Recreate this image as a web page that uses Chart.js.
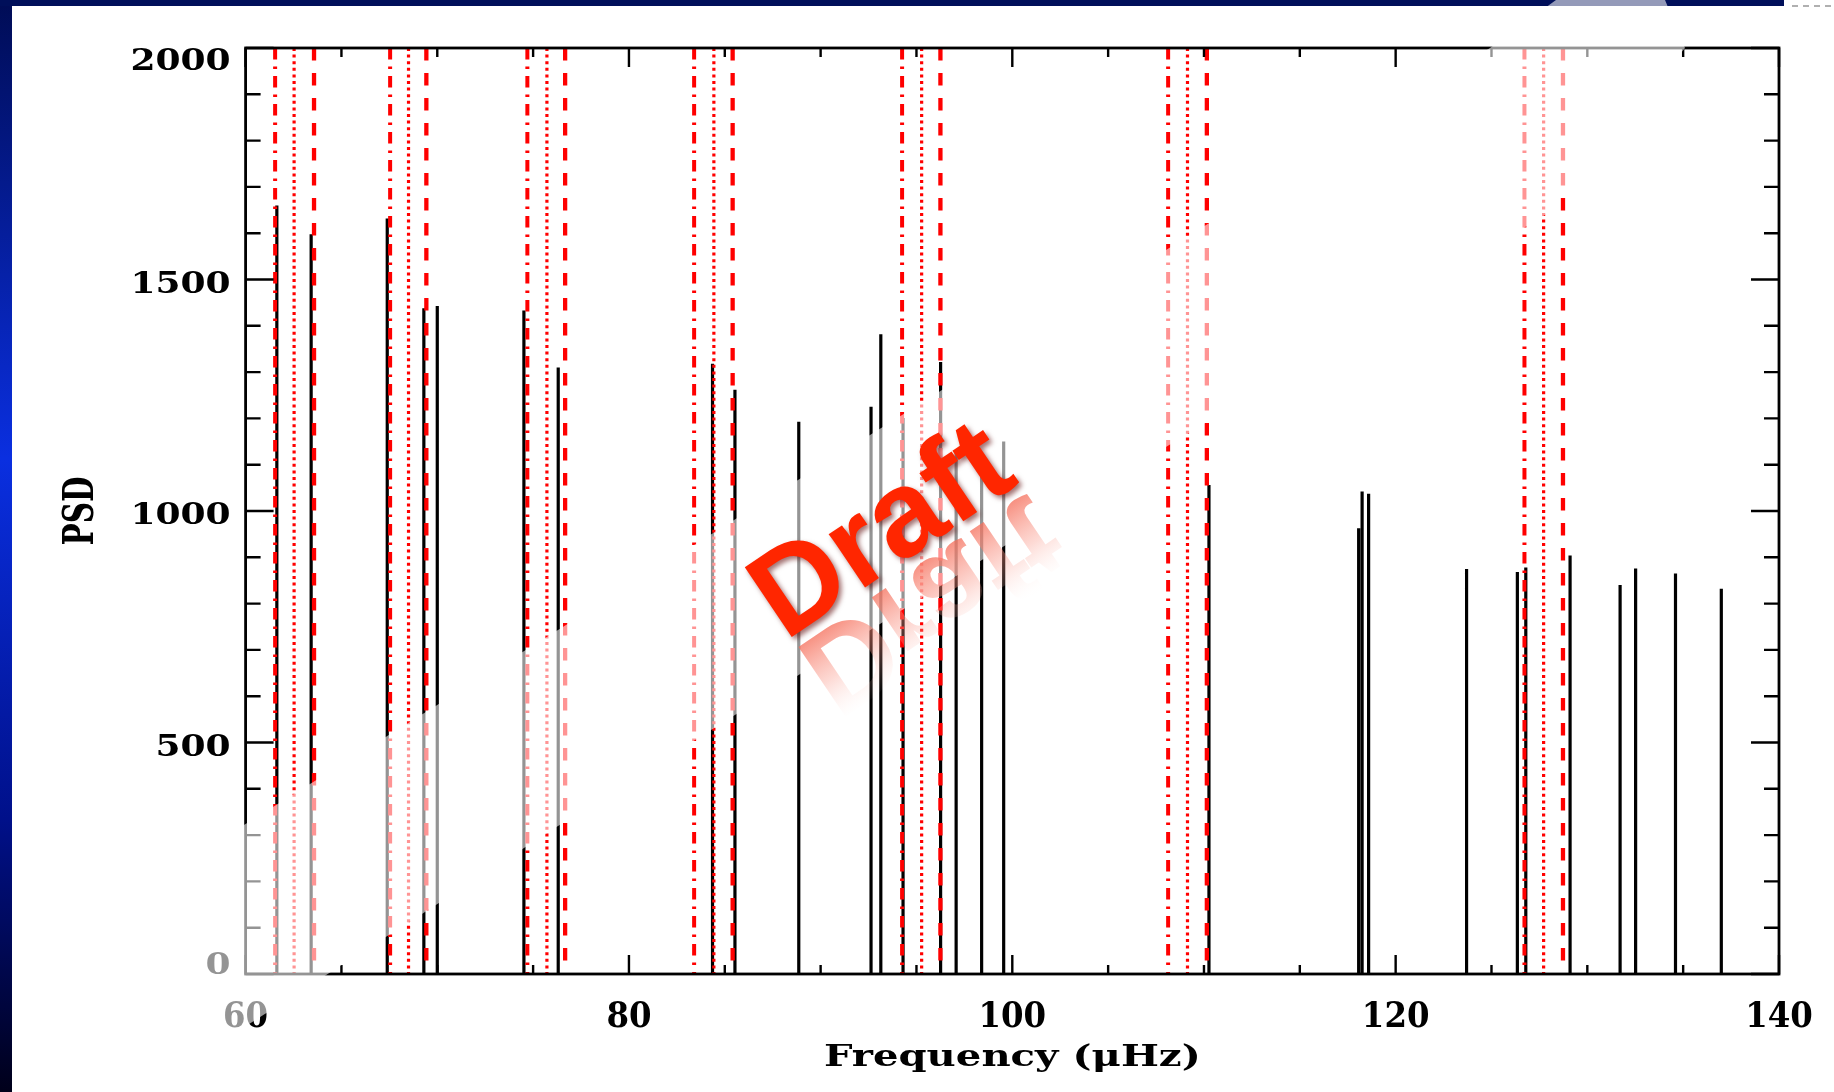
<!DOCTYPE html>
<html>
<head>
<meta charset="utf-8">
<title>PSD</title>
<script src="https://cdn.jsdelivr.net/npm/chart.js@4.4.1/dist/chart.umd.min.js"></script>
<style>
  html, body { margin: 0; padding: 0; background: #ffffff; overflow: hidden; }
  canvas { display: block; }
</style>
</head>
<body>
<canvas id="psdCanvas" width="1834" height="1092"></canvas>
<script>
// Observed peaks: frequency (uHz) and PSD height
const peakFreqs = [61.63, 63.42, 67.39, 69.30, 70.00, 74.52, 76.31, 84.36, 85.53, 88.86,
    92.63, 93.14, 94.30, 96.26, 97.07, 98.40, 99.55, 110.26, 118.07, 118.25,
    118.59, 123.70, 126.35, 126.79, 129.10, 131.71, 132.52, 134.60, 136.99];
const peakPsd = [1660, 1598, 1632, 1438, 1443, 1433, 1310, 1318, 1262, 1193,
    1225, 1382, 1201, 1322, 1130, 1100, 1150, 1056, 963, 1042,
    1037, 875, 868, 878, 904, 840, 876, 865, 832];

// Model frequencies, one list per line style
const dashDotFreqs = [61.54, 67.54, 74.70, 83.40, 94.25, 108.13, 126.72];
const dottedFreqs  = [62.53, 68.50, 75.72, 84.43, 95.27, 109.14, 127.72];
const dashedFreqs  = [63.57, 69.43, 76.67, 85.41, 96.25, 110.15, 128.73];

// Axis ticks
const xTickLabels = [60, 80, 100, 120, 140];
const yTickLabels = [0, 500, 1000, 1500, 2000];
const xMinorStep = 5;
const yMinorStep = 100;

const X_MIN = 60, X_MAX = 140, Y_MIN = 0, Y_MAX = 2000;

// each spike is a vertical segment from 0 up to its height, gaps in between
function spikePoints(freqs, heights) {
    const pts = [];
    freqs.forEach((f, i) => {
        pts.push({ x: f, y: 0 }, { x: f, y: heights[i] }, { x: f, y: null });
    });
    return pts;
}

// full height marker lines (drawn top to bottom so dashes start at the top)
function markerPoints(freqs) {
    const pts = [];
    freqs.forEach(f => {
        pts.push({ x: f, y: Y_MAX }, { x: f, y: Y_MIN }, { x: f, y: null });
    });
    return pts;
}

function stretchText(ctx, txt, x, y, sx, align) {
    ctx.save();
    ctx.translate(x, y);
    ctx.scale(sx, 1);
    ctx.textAlign = align;
    ctx.fillText(txt, 0, 0);
    ctx.restore();
}

// slide background: white page with blue bars on the left and top
const slidePlugin = {
    id: 'slide',
    beforeDraw(chart) {
        const ctx = chart.ctx;
        const W = chart.width, H = chart.height;
        ctx.save();
        ctx.fillStyle = '#ffffff';
        ctx.fillRect(0, 0, W, H);
        const g = ctx.createLinearGradient(0, 0, 0, H);
        g.addColorStop(0, '#000c55');
        g.addColorStop(0.42, '#0a2fe0');
        g.addColorStop(0.75, '#00108a');
        g.addColorStop(1, '#00001a');
        ctx.fillStyle = g;
        ctx.fillRect(0, 0, 12, H);
        ctx.fillStyle = '#000f5a';
        ctx.fillRect(0, 0, 1784, 6);
        ctx.strokeStyle = '#b0b0b0';
        ctx.lineWidth = 2;
        ctx.setLineDash([6, 5]);
        ctx.beginPath();
        ctx.moveTo(1792, 6);
        ctx.lineTo(1834, 6);
        ctx.stroke();
        ctx.restore();
    }
};

// box axes with inward ticks, labels, titles, then the overlay and watermark
const framePlugin = {
    id: 'frame',
    afterDraw(chart) {
        const ctx = chart.ctx;
        const ca = chart.chartArea;
        const xs = chart.scales.x, ys = chart.scales.y;
        ctx.save();
        ctx.strokeStyle = '#000000';
        ctx.fillStyle = '#000000';
        ctx.lineCap = 'butt';
        ctx.lineWidth = 2.8;
        ctx.strokeRect(ca.left, ca.top, ca.right - ca.left, ca.bottom - ca.top);

        ctx.lineWidth = 2.4;
        ctx.beginPath();
        for (let v = X_MIN; v <= X_MAX + 1e-6; v += xMinorStep) {
            const px = xs.getPixelForValue(v);
            const len = xTickLabels.includes(v) ? 19 : 9;
            ctx.moveTo(px, ca.bottom); ctx.lineTo(px, ca.bottom - len);
            ctx.moveTo(px, ca.top); ctx.lineTo(px, ca.top + len);
        }
        for (let v = Y_MIN; v <= Y_MAX + 1e-6; v += yMinorStep) {
            const py = ys.getPixelForValue(v);
            const len = yTickLabels.includes(v) ? 28 : 15;
            ctx.moveTo(ca.left, py); ctx.lineTo(ca.left + len, py);
            ctx.moveTo(ca.right, py); ctx.lineTo(ca.right - len, py);
        }
        ctx.stroke();

        // tick labels
        ctx.textBaseline = 'alphabetic';
        ctx.font = 'bold 36px "DejaVu Serif", serif';
        xTickLabels.forEach(v => {
            stretchText(ctx, String(v), xs.getPixelForValue(v), ca.bottom + 53, 0.9, 'center');
        });
        ctx.font = 'bold 30px "DejaVu Serif", serif';
        yTickLabels.forEach(v => {
            let cy = ys.getPixelForValue(v) + 2;
            cy = Math.min(Math.max(cy, ca.top + 11), ca.bottom - 11);
            stretchText(ctx, String(v), ca.left - 15, cy + 11, 1.2, 'right');
        });

        // axis titles
        ctx.font = 'bold 30px "DejaVu Serif", serif';
        stretchText(ctx, 'Frequency (\u03bcHz)', (ca.left + ca.right) / 2, ca.bottom + 92, 1.34, 'center');
        ctx.save();
        ctx.translate(93, (ca.top + ca.bottom) / 2);
        ctx.rotate(-Math.PI / 2);
        ctx.font = 'bold 42px "DejaVu Serif", serif';
        stretchText(ctx, 'PSD', 0, 0, 0.7, 'center');
        ctx.restore();

        // faded diagonal band across the slide
        ctx.fillStyle = 'rgba(255,255,255,0.58)';
        ctx.beginPath();
        ctx.moveTo(12, 969);
        ctx.lineTo(558, 630);
        ctx.lineTo(1190, 235);
        ctx.lineTo(1490, 48);
        ctx.lineTo(1556, 0);
        ctx.lineTo(1665, 0);
        ctx.lineTo(1685, 48);
        ctx.lineTo(1548, 213);
        ctx.lineTo(1001, 548);
        ctx.lineTo(558, 826);
        ctx.lineTo(425, 912);
        ctx.lineTo(12, 1175);
        ctx.closePath();
        ctx.fill();

        // "Draft" watermark with its reflection
        ctx.save();
        ctx.translate(903, 562);
        ctx.rotate(-34 * Math.PI / 180);
        ctx.font = 'bold 122px "Liberation Sans", Arial, sans-serif';
        ctx.textAlign = 'center';
        ctx.textBaseline = 'alphabetic';
        ctx.save();
        ctx.scale(1, -1);
        ctx.translate(0, -12);
        const rg = ctx.createLinearGradient(0, 0, 0, -100);
        rg.addColorStop(0, 'rgba(245,110,90,0.75)');
        rg.addColorStop(0.45, 'rgba(250,150,135,0.35)');
        rg.addColorStop(0.85, 'rgba(255,230,225,0.02)');
        rg.addColorStop(1, 'rgba(255,255,255,0)');
        ctx.fillStyle = rg;
        ctx.fillText('Draft', 0, 0);
        ctx.restore();
        ctx.shadowColor = 'rgba(90,0,0,0.55)';
        ctx.shadowOffsetX = 3;
        ctx.shadowOffsetY = 3;
        ctx.shadowBlur = 5;
        ctx.fillStyle = '#ff2600';
        ctx.fillText('Draft', 0, 0);
        ctx.restore();

        ctx.restore();
    }
};

const ctx = document.getElementById('psdCanvas').getContext('2d');

const psdChart = new Chart(ctx, {
    type: 'line',
    data: {
        datasets: [
            {
                label: 'dash-dot',
                data: markerPoints(dashDotFreqs),
                borderColor: '#ff0000',
                borderWidth: 4,
                borderDash: [11.5, 7, 2.5, 7],
                order: 0
            },
            {
                label: 'dotted',
                data: markerPoints(dottedFreqs),
                borderColor: '#ff0000',
                borderWidth: 3.2,
                borderDash: [3, 3.6],
                order: 0
            },
            {
                label: 'dashed',
                data: markerPoints(dashedFreqs),
                borderColor: '#ff0000',
                borderWidth: 4.3,
                borderDash: [12.5, 12.5],
                order: 0
            },
            {
                label: 'PSD',
                data: spikePoints(peakFreqs, peakPsd),
                borderColor: '#000000',
                borderWidth: 3.2,
                order: 1
            }
        ]
    },
    options: {
        responsive: false,
        animation: false,
        devicePixelRatio: 1,
        spanGaps: false,
        elements: {
            point: { radius: 0, hoverRadius: 0 },
            line: { tension: 0, borderCapStyle: 'butt', fill: false }
        },
        layout: {
            padding: { left: 245.6, right: 55, top: 48, bottom: 118 }
        },
        scales: {
            x: { type: 'linear', min: X_MIN, max: X_MAX, display: false },
            y: { type: 'linear', min: Y_MIN, max: Y_MAX, display: false }
        },
        plugins: {
            legend: { display: false },
            tooltip: { enabled: false }
        }
    },
    plugins: [slidePlugin, framePlugin]
});
</script>
</body>
</html>
